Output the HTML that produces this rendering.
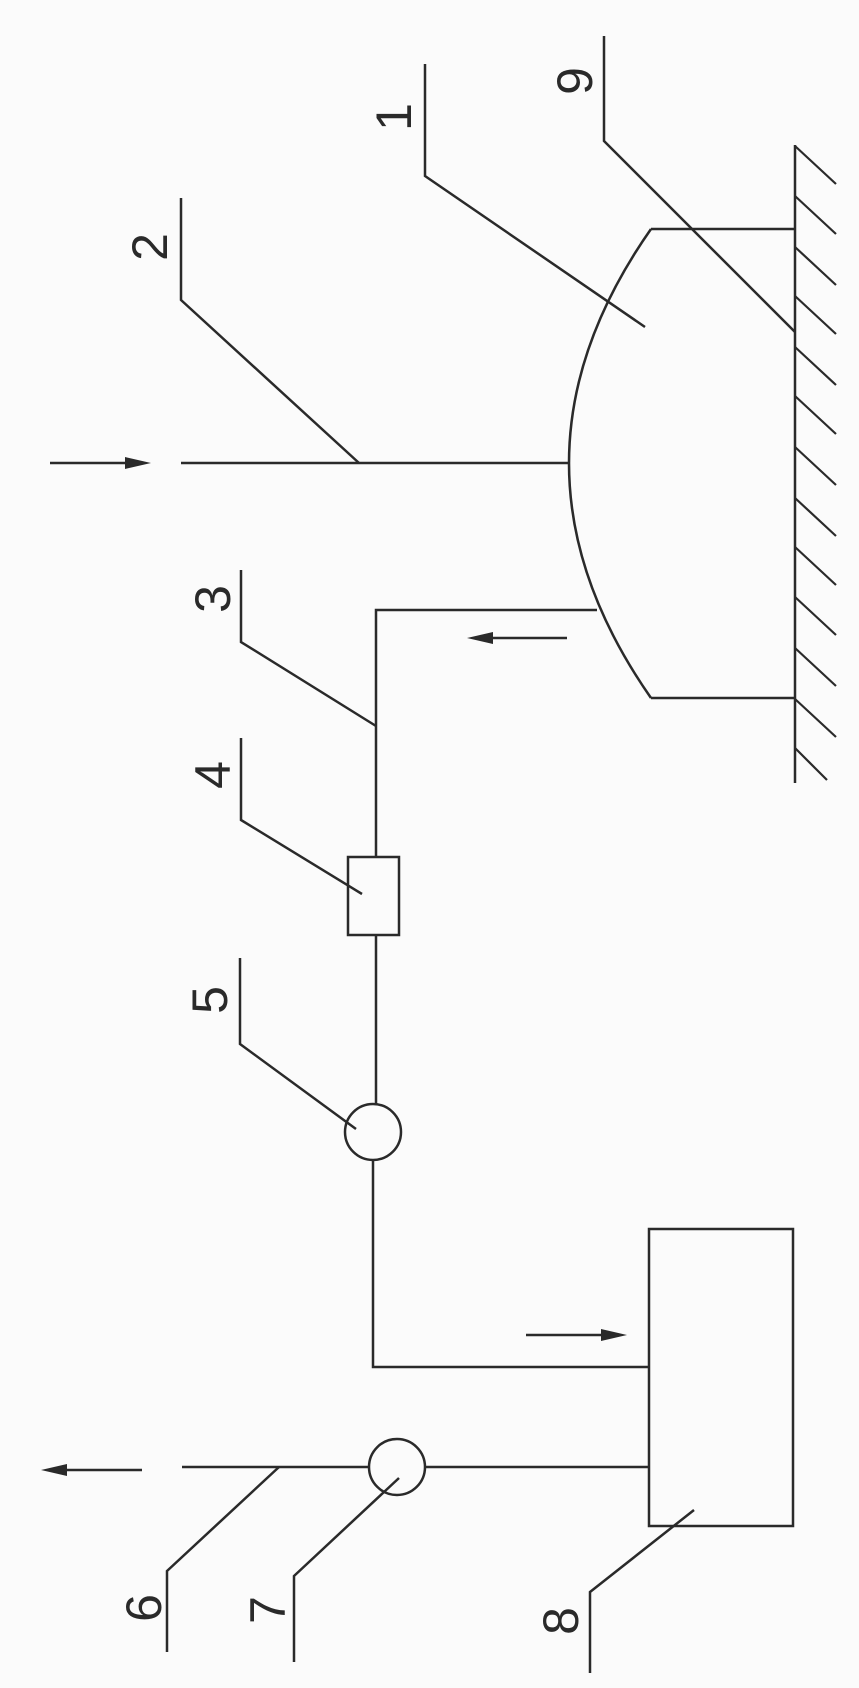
<!DOCTYPE html>
<html><head><meta charset="utf-8"><style>
html,body{margin:0;padding:0;background:#fbfbfb;}
svg{display:block}
text{font-family:"Liberation Sans",sans-serif;font-size:50px;fill:#2a2a2a;}
</style></head><body>
<svg width="859" height="1688" viewBox="0 0 859 1688" xmlns="http://www.w3.org/2000/svg">
<g stroke="#2a2a2a" stroke-width="2.5" fill="none">
<!-- ground -->
<line x1="795" y1="145" x2="795" y2="783"/>
<g stroke-width="2.2">
<line x1="795" y1="146" x2="836" y2="184"/>
<line x1="795" y1="196" x2="836" y2="234"/>
<line x1="795" y1="247" x2="836" y2="285"/>
<line x1="795" y1="296" x2="836" y2="334"/>
<line x1="795" y1="347" x2="836" y2="385"/>
<line x1="795" y1="396" x2="836" y2="434"/>
<line x1="795" y1="447" x2="836" y2="485"/>
<line x1="795" y1="498" x2="836" y2="536"/>
<line x1="795" y1="547" x2="836" y2="585"/>
<line x1="795" y1="597" x2="836" y2="635"/>
<line x1="795" y1="648" x2="836" y2="686"/>
<line x1="795" y1="699" x2="836" y2="737"/>
<line x1="795" y1="748" x2="827" y2="780"/>
</g>
<!-- dome -->
<polyline points="795,229 651,229"/>
<polyline points="795,698 651,698"/>
<path d="M651,229 Q487,463 651,698"/>
<!-- pipe 2 -->
<line x1="181" y1="463" x2="569" y2="463"/>
<polyline points="359,463 181,300 181,198"/>
<polyline points="645,327 425,176 425,64"/>
<polyline points="795,332 604,141 604,36"/>
<!-- pipe 3 -->
<polyline points="597,610 376,610 376,857"/>
<polyline points="376,726 241,642 241,570"/>
<rect x="348" y="857" width="51" height="78"/>
<polyline points="362,894 241,820 241,738"/>
<line x1="376" y1="935" x2="376" y2="1104"/>
<circle cx="373" cy="1132" r="28"/>
<polyline points="356,1129 240,1044 240,958"/>
<polyline points="373,1160 373,1367 649,1367"/>
<rect x="649" y="1229" width="144" height="297"/>
<line x1="182" y1="1467" x2="369" y2="1467"/>
<circle cx="397" cy="1467" r="28"/>
<line x1="425" y1="1467" x2="649" y2="1467"/>
<polyline points="279,1467 167,1571 167,1652"/>
<polyline points="399,1478 294,1576 294,1662"/>
<polyline points="694,1510 590,1592 590,1673"/>
<!-- arrows -->
<line x1="50" y1="463" x2="135" y2="463"/>
<line x1="567" y1="638" x2="482" y2="638"/>
<line x1="526" y1="1335" x2="612" y2="1335"/>
<line x1="142" y1="1470" x2="57" y2="1470"/>
</g>
<g fill="#2a2a2a">
<polygon points="151,463 125,457 125,469"/>
<polygon points="467,638 493,632 493,644"/>
<polygon points="627,1335 601,1329 601,1341"/>
<polygon points="41,1470 67,1464 67,1476"/>
</g>
<g text-anchor="middle" dominant-baseline="central">
<text transform="translate(150,247) rotate(-90)">2</text>
<text transform="translate(394,117) rotate(-90)">1</text>
<text transform="translate(575,81) rotate(-90)">9</text>
<text transform="translate(213,599) rotate(-90)">3</text>
<text transform="translate(213,775) rotate(-90)">4</text>
<text transform="translate(210,1000) rotate(-90)">5</text>
<text transform="translate(144,1608) rotate(-90)">6</text>
<text transform="translate(268,1610) rotate(-90)">7</text>
<text transform="translate(561,1621) rotate(-90)">8</text>
</g>
</svg>
</body></html>
